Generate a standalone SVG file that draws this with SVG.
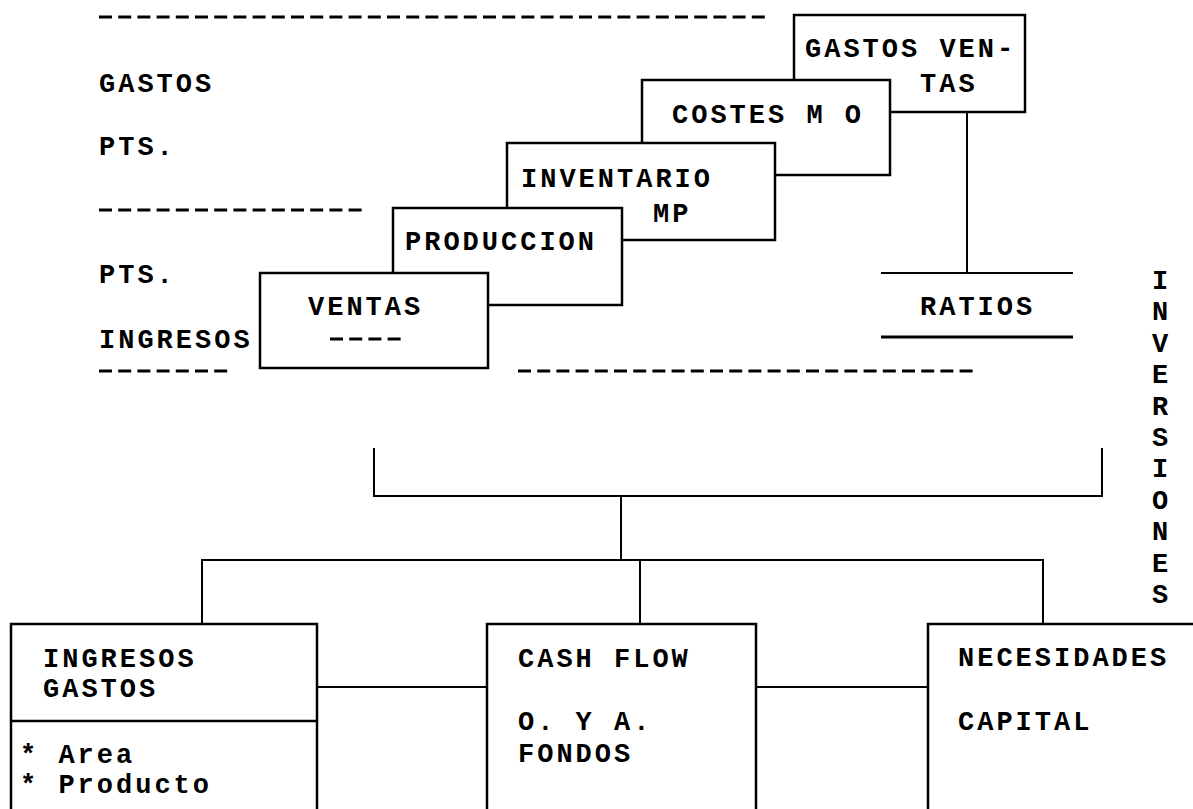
<svg xmlns="http://www.w3.org/2000/svg" width="1193" height="809" viewBox="0 0 1193 809">
<style>
text { font-family: "Liberation Mono", "Courier New", monospace; font-weight: bold; font-size: 27px; letter-spacing: 3px; fill: #000; }
.box { fill: #fff; stroke: #000; stroke-width: 2.5; }
.ln { stroke: #000; stroke-width: 2; fill: none; }
.dash { stroke: #000; stroke-width: 3; stroke-dasharray: 13 6.2; }
.v { text-anchor: middle; letter-spacing: 0; }
</style>
<rect width="1193" height="809" fill="#fff"/>

<g id="labels">
  <line class="dash" x1="99" y1="17" x2="766" y2="17"/>
  <text x="99" y="92">GASTOS</text>
  <text x="99" y="155">PTS.</text>
  <line class="dash" x1="99" y1="210" x2="362" y2="210"/>
  <text x="99" y="283">PTS.</text>
  <text x="99" y="348">INGRESOS</text>
  <line class="dash" x1="99" y1="371" x2="230" y2="371"/>
  <line class="dash" x1="518" y1="371" x2="976" y2="371"/>
</g>

<g id="connectors">
  <path class="ln" d="M967 112 V273"/>
  <path class="ln" d="M374 448 V496 H1102 V448"/>
  <path class="ln" d="M621 496 V560"/>
  <path class="ln" d="M202 624 V560 H1043 V624"/>
  <path class="ln" d="M640 560 V624"/>
  <path class="ln" d="M317 687 H487"/>
  <path class="ln" d="M756 687 H928"/>
</g>

<g id="gastos-ventas">
  <rect class="box" x="794" y="15" width="231" height="97"/>
  <text x="805" y="57">GASTOS VEN-</text>
  <text x="920" y="92">TAS</text>
</g>
<g id="costes-mo">
  <rect class="box" x="642" y="80" width="248" height="95"/>
  <text x="672" y="123">COSTES M O</text>
</g>
<g id="inventario-mp">
  <rect class="box" x="507" y="143" width="268" height="97"/>
  <text x="521" y="187">INVENTARIO</text>
  <text x="653" y="222">MP</text>
</g>
<g id="produccion">
  <rect class="box" x="393" y="208" width="229" height="97"/>
  <text x="405" y="250">PRODUCCION</text>
</g>
<g id="ventas">
  <rect class="box" x="260" y="273" width="228" height="95"/>
  <text x="308" y="315">VENTAS</text>
  <line class="dash" x1="330" y1="339" x2="402" y2="339"/>
</g>

<g id="ratios">
  <line class="ln" x1="881" y1="273" x2="1073" y2="273"/>
  <text x="920" y="315">RATIOS</text>
  <line class="ln" x1="881" y1="337" x2="1073" y2="337" style="stroke-width:3"/>
</g>

<g id="inversiones">
  <text class="v" x="1160" y="289">I</text>
  <text class="v" x="1160" y="320.4">N</text>
  <text class="v" x="1160" y="351.8">V</text>
  <text class="v" x="1160" y="383.2">E</text>
  <text class="v" x="1160" y="414.6">R</text>
  <text class="v" x="1160" y="446">S</text>
  <text class="v" x="1160" y="477.4">I</text>
  <text class="v" x="1160" y="508.8">O</text>
  <text class="v" x="1160" y="540.2">N</text>
  <text class="v" x="1160" y="571.6">E</text>
  <text class="v" x="1160" y="603">S</text>
</g>

<g id="ingresos-gastos">
  <rect class="box" x="11" y="624" width="306" height="200"/>
  <line class="ln" x1="11" y1="721" x2="317" y2="721" style="stroke-width:2.5"/>
  <text x="43" y="667">INGRESOS</text>
  <text x="43" y="697">GASTOS</text>
  <text x="20" y="763">* Area</text>
  <text x="20" y="793">* Producto</text>
</g>
<g id="cash-flow">
  <rect class="box" x="487" y="624" width="269" height="200"/>
  <text x="518" y="667">CASH FLOW</text>
  <text x="518" y="730">O. Y A.</text>
  <text x="518" y="762">FONDOS</text>
</g>
<g id="necesidades-capital">
  <rect class="box" x="928" y="624" width="280" height="200"/>
  <text x="958" y="666">NECESIDADES</text>
  <text x="958" y="730">CAPITAL</text>
</g>
</svg>
